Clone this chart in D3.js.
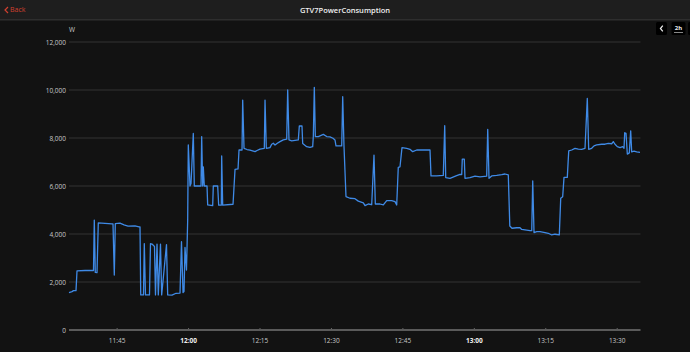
<!DOCTYPE html>
<html>
<head>
<meta charset="utf-8">
<script src="https://cdn.jsdelivr.net/npm/d3@7"></script>
<style>
  body { margin: 0; background: #121212; overflow: hidden; }
  svg { display: block; font-family: "Open Sans", "Noto Sans", sans-serif; }
</style>
</head>
<body>
<div id="chart"></div>
<script>
var W = 690, H = 352
var margin = { top: 42, right: 49.5, bottom: 22, left: 69 }
var w = W - margin.left - margin.right
var h = H - margin.top - margin.bottom

var title = 'GTV7PowerConsumption'
var unit = 'W'
var startTime = '11:35'
var windowMinutes = 120
var yTicks = [0, 2000, 4000, 6000, 8000, 10000, 12000]

// minutes after 11:35
var minutes = [
  0.0, 0.63, 0.94, 1.47, 1.68, 3.36, 5.14, 5.31, 5.52, 5.88,
  6.15, 7.56, 9.03, 9.24, 9.51, 9.72, 10.71, 11.55, 12.39, 13.86,
  14.70, 14.91, 15.06, 15.64, 15.81, 16.06, 16.90, 17.11, 17.43, 17.95,
  18.16, 18.48, 18.75, 19.21, 19.46, 20.47, 20.72, 21.63, 22.47, 23.31,
  23.62, 23.94, 24.15, 24.36, 24.67, 24.92, 25.05, 25.41, 25.62, 26.10,
  26.31, 27.72, 27.86, 28.07, 28.20, 28.41, 28.98, 29.12, 30.17, 30.30,
  31.22, 31.43, 31.98, 32.06, 32.27, 34.44, 34.86, 35.49, 35.70, 36.33,
  36.47, 36.75, 37.38, 38.01, 39.06, 39.48, 40.11, 41.01, 41.16, 41.43,
  42.20, 42.56, 42.90, 43.26, 43.74, 44.30, 45.00, 45.71, 45.92, 46.19,
  46.76, 47.45, 48.15, 48.36, 48.92, 49.07, 49.91, 50.60, 51.17, 51.30,
  51.51, 51.72, 52.35, 53.40, 54.11, 54.80, 55.43, 55.85, 56.06, 57.26,
  57.47, 57.74, 58.16, 59.00, 60.05, 60.75, 61.80, 62.16, 62.85, 63.56,
  64.04, 64.32, 65.30, 66.00, 66.71, 67.76, 68.45, 68.81, 69.14, 69.50,
  69.92, 70.91, 71.60, 72.17, 73.01, 74.06, 75.80, 76.01, 77.21, 78.59,
  78.89, 79.10, 80.00, 81.26, 82.10, 82.46, 82.58, 83.00, 83.15, 84.20,
  85.25, 86.30, 87.70, 87.92, 88.19, 88.76, 89.81, 90.86, 91.55, 92.24,
  92.56, 93.02, 94.01, 94.70, 95.06, 95.75, 96.80, 97.16, 97.37, 97.64,
  98.21, 98.90, 99.95, 100.64, 101.36, 102.05, 102.95, 103.25, 103.66, 103.94,
  104.63, 104.93, 105.56, 106.25, 106.94, 107.65, 108.35, 108.83, 109.12, 109.75,
  110.24, 110.80, 111.85, 112.55, 113.24, 113.95, 114.29, 114.65, 115.13, 115.70,
  116.26, 116.54, 116.68, 116.96, 117.23, 117.65, 117.94, 118.15, 118.64, 119.20,
  119.89
]

// power in W
var watts = [
  1560, 1600, 1640, 1640, 2460, 2480, 2480, 4580, 2400, 2390,
  4460, 4440, 4420, 4420, 2290, 4430, 4450, 4380, 4330, 4340,
  4300, 4300, 1460, 1460, 3600, 1460, 1460, 3600, 3580, 3480,
  1460, 3580, 1460, 3580, 1460, 3560, 1460, 1450, 1530, 1540,
  3680, 1560, 1600, 3440, 2500, 4580, 7710, 6000, 6100, 8190,
  6000, 6000, 8060, 6000, 6800, 6000, 6000, 5210, 5180, 6000,
  6000, 5200, 5200, 7250, 5200, 5240, 6690, 6710, 7500, 7500,
  9580, 7570, 7520, 7490, 7430, 7480, 7540, 7570, 9580, 7570,
  7600, 7740, 7780, 7710, 7780, 7850, 7920, 7950, 10000, 7920,
  7880, 7900, 7920, 8500, 8500, 7770, 7640, 7610, 7640, 8060,
  10110, 8060, 8060, 8150, 8060, 8050, 7990, 7920, 7670, 7670,
  9720, 7670, 5560, 5490, 5470, 5370, 5300, 5180, 5250, 5220,
  7290, 5250, 5250, 5210, 5390, 5390, 5350, 5210, 6780, 6800,
  7600, 7570, 7530, 7430, 7500, 7500, 7500, 6420, 6420, 6440,
  8510, 6350, 6320, 6420, 6480, 6480, 7120, 7120, 6320, 6350,
  6410, 6380, 6410, 8360, 6320, 6420, 6440, 6470, 6500, 6460,
  4330, 4240, 4260, 4260, 4190, 4170, 4140, 4140, 6210, 4060,
  4100, 4100, 4060, 4030, 3960, 3990, 3960, 5490, 5550, 6360,
  6360, 7460, 7500, 7570, 7540, 7530, 7570, 9650, 7530, 7570,
  7670, 7710, 7740, 7740, 7780, 7760, 7850, 7740, 7640, 7600,
  7640, 7570, 8220, 8190, 7330, 7380, 8300, 7420, 7450, 7420,
  7400
]

var parseTime = d3.timeParse('%H:%M')
var t0 = parseTime(startTime)
var t1 = d3.timeMinute.offset(t0, windowMinutes)
var data = minutes.map(function (m, i) {
  return { time: new Date(t0.getTime() + m * 60000), value: watts[i] }
})

var svg = d3.select('#chart').append('svg')
  .attr('width', W)
  .attr('height', H)

// header bar
svg.append('rect')
  .attr('width', W).attr('height', 19)
  .attr('fill', '#1e1e1e')
svg.append('rect')
  .attr('y', 19).attr('width', W).attr('height', 1.5)
  .attr('fill', '#2e2e2e')
svg.append('text')
  .attr('x', W / 2).attr('y', 10)
  .attr('dy', '0.35em')
  .attr('text-anchor', 'middle')
  .attr('fill', '#f0f0f0')
  .style('font-size', '7.5px')
  .style('font-weight', 600)
  .text(title)
var back = svg.append('g').attr('transform', 'translate(5,10)')
back.append('path')
  .attr('d', 'M3,-3 L0,0 L3,3')
  .attr('fill', 'none')
  .attr('stroke', '#d2402f')
  .attr('stroke-width', 1.2)
back.append('text')
  .attr('x', 5).attr('dy', '0.35em')
  .attr('fill', '#d2402f')
  .style('font-size', '7px')
  .text('Back')

// top-right buttons
var btn1 = svg.append('g').attr('transform', 'translate(656,22)')
btn1.append('rect').attr('width', 11).attr('height', 13).attr('rx', 1.5).attr('fill', '#000')
btn1.append('path')
  .attr('d', 'M6.8,3.6 L4.4,6.5 L6.8,9.4')
  .attr('fill', 'none').attr('stroke', '#eee').attr('stroke-width', 1.2)
var btn2 = svg.append('g').attr('transform', 'translate(671.5,22)')
btn2.append('rect').attr('width', 14).attr('height', 13).attr('rx', 1.5).attr('fill', '#000')
btn2.append('text')
  .attr('x', 7).attr('y', 6.2).attr('dy', '0.35em')
  .attr('text-anchor', 'middle')
  .attr('fill', '#eee')
  .style('font-size', '6px').style('font-weight', 700)
  .text('2h')
btn2.append('rect').attr('x', 2.5).attr('y', 10).attr('width', 9).attr('height', 0.8).attr('fill', '#aaa')
svg.append('rect').attr('x', 688).attr('y', 22).attr('width', 6).attr('height', 13).attr('rx', 1.5).attr('fill', '#000')

var g = svg.append('g')
  .attr('transform', 'translate(' + margin.left + ',' + margin.top + ')')

// Scales
var x = d3.scaleTime().domain([t0, t1]).range([0, w])
var y = d3.scaleLinear().domain([0, 12000]).range([h, 0])

// grid
g.selectAll('.grid')
  .data(yTicks.filter(function (d) { return d > 0 }))
  .enter().append('line')
  .attr('class', 'grid')
  .attr('x1', 0).attr('x2', w)
  .attr('y1', function (d) { return y(d) })
  .attr('y2', function (d) { return y(d) })
  .attr('stroke', '#333')
  .attr('stroke-width', 1)

// Y-axis labels
var yAxis = d3.axisLeft(y)
  .tickValues(yTicks)
  .tickSize(0)
  .tickPadding(3)
  .tickFormat(d3.format(','))
var yG = g.append('g').call(yAxis)
yG.select('.domain').remove()
yG.selectAll('text')
  .attr('fill', '#c8c8c8')
  .style('font-size', '6.5px')
  .style('font-family', '"Open Sans", sans-serif')

g.append('text')
  .attr('x', 0).attr('y', -10)
  .attr('fill', '#c8c8c8')
  .style('font-size', '6.5px')
  .text(unit)

// X-axis
var xAxis = d3.axisBottom(x)
  .ticks(d3.timeMinute.every(15))
  .tickSize(2)
  .tickPadding(6)
  .tickFormat(d3.timeFormat('%H:%M'))
var xG = g.append('g')
  .attr('transform', 'translate(0,' + h + ')')
  .call(xAxis)
xG.select('.domain').remove()
xG.selectAll('.tick line').attr('stroke', '#666').attr('y1', -2).attr('y2', 1)
xG.selectAll('.tick text')
  .attr('fill', '#c8c8c8')
  .style('font-size', '6.5px')
  .style('font-family', '"Open Sans", sans-serif')
  .style('font-weight', function (d) { return d.getMinutes() === 0 ? 700 : 400 })
  .style('fill', function (d) { return d.getMinutes() === 0 ? '#f0f0f0' : '#c8c8c8' })

g.append('line')
  .attr('x1', 0).attr('x2', w)
  .attr('y1', y(0)).attr('y2', y(0))
  .attr('stroke', '#5a5a5a')
  .attr('stroke-width', 2)

// power line
var valueLine = d3.line()
  .x(function (d) { return x(d.time) })
  .y(function (d) { return y(d.value) })
g.append('path')
  .datum(data)
  .attr('fill', 'none')
  .attr('stroke', '#3f8ae6')
  .attr('stroke-width', 1.3)
  .attr('stroke-linejoin', 'round')
  .attr('d', valueLine)
</script>
</body>
</html>
